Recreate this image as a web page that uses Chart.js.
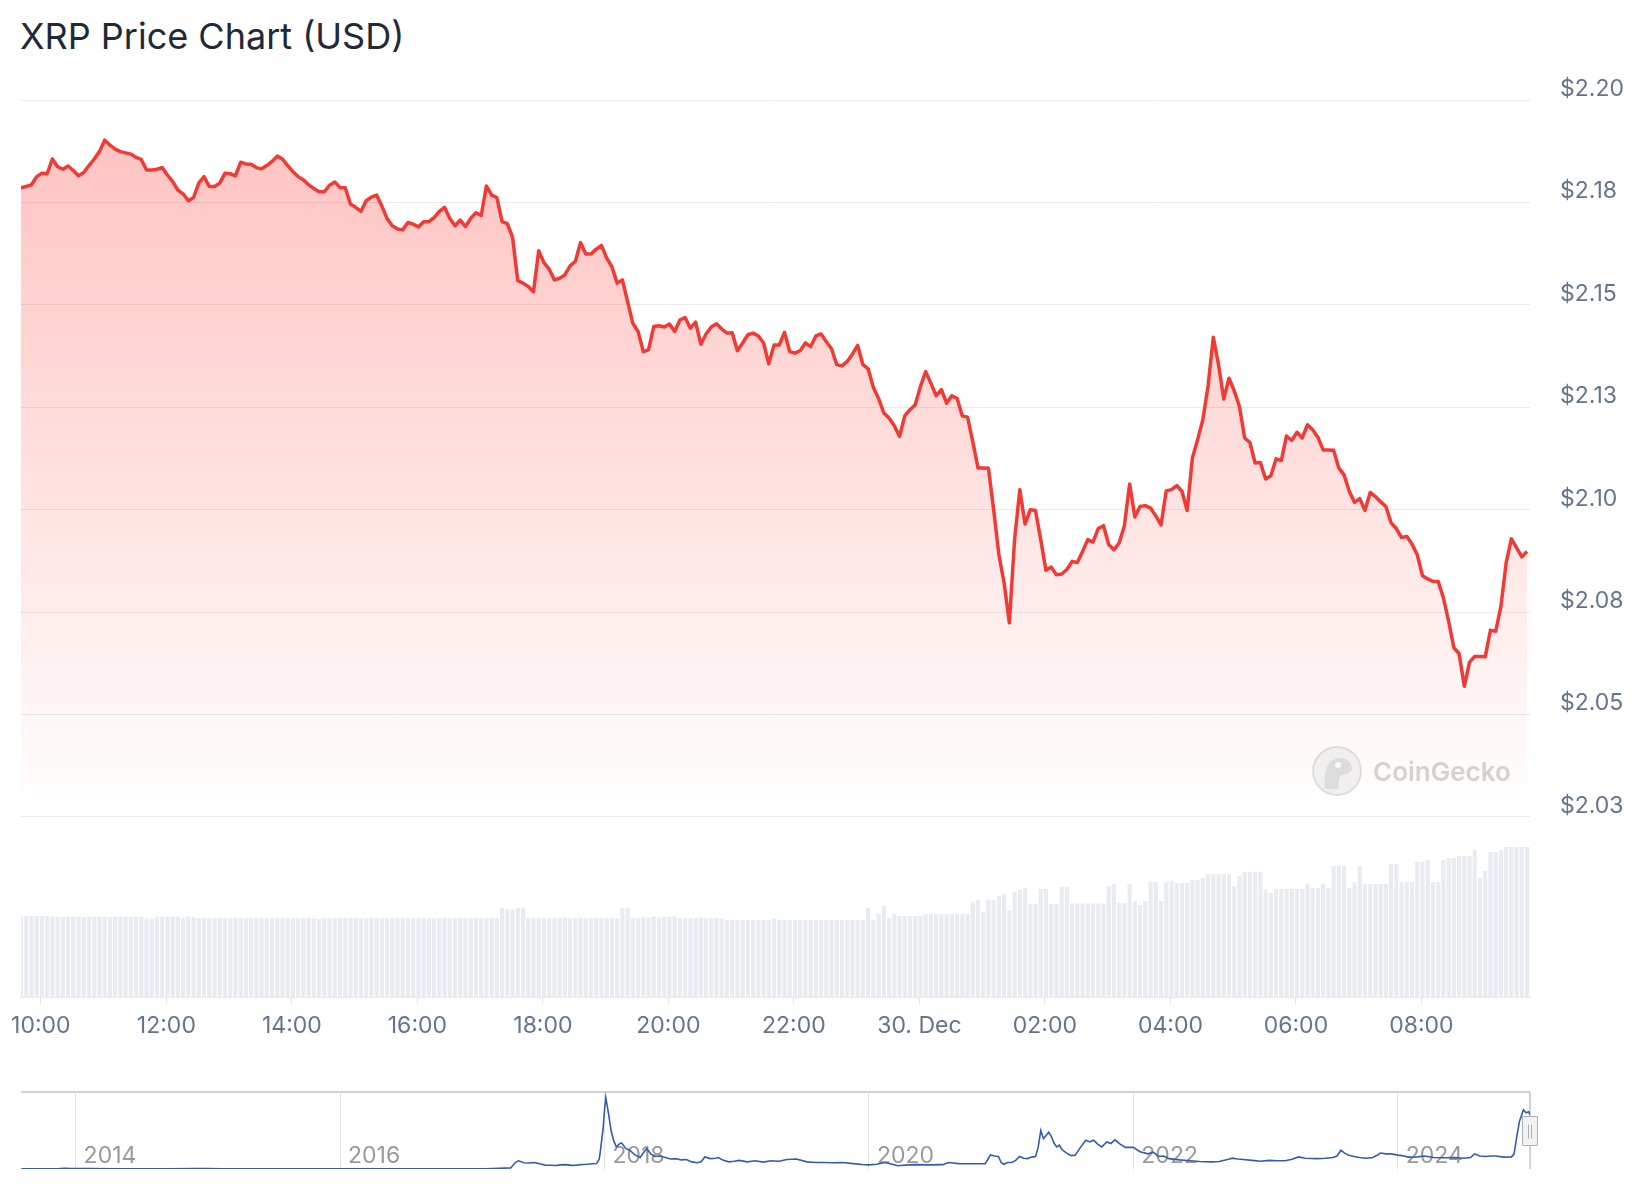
<!DOCTYPE html>
<html>
<head>
<meta charset="utf-8">
<title>XRP Price Chart (USD)</title>
<script src="https://cdn.jsdelivr.net/npm/chart.js@4.4.1/dist/chart.umd.min.js"></script>
<style>
  html, body { margin: 0; padding: 0; background: #fff; }
  body { width: 1644px; height: 1200px; position: relative; overflow: hidden; font-family: Inter, "Noto Sans", sans-serif; }
  #title { position: absolute; left: 20px; top: 14px; font-size: 36px; line-height: 44px; color: #1f2937; }
  #main { position: absolute; left: 0; top: 0; width: 1644px; height: 1060px; }
  #nav { position: absolute; left: 0; top: 1085px; width: 1644px; height: 95px; }
  #mark { position: absolute; left: 1311px; top: 745px; height: 52px; display: flex; align-items: center; gap: 10px;
          color: rgba(150, 150, 150, 0.42); font-size: 26px; font-weight: 600; z-index: 2; }
</style>
</head>
<body>
<div id="title">XRP Price Chart (USD)</div>
<div id="main"><canvas id="mainChart"></canvas></div>
<div id="nav"><canvas id="navChart"></canvas></div>
<div id="mark">
  <svg width="52" height="52" viewBox="0 0 52 52">
    <circle cx="26" cy="26" r="24" fill="rgba(225,225,225,0.45)" stroke="rgba(190,190,190,0.45)" stroke-width="2"/>
    <path d="M14 44 C13 30 14 18 24 14 C32 11 40 15 41 22 C42 27 36 29 31 30 C28 31 27 36 28 44 Z" fill="rgba(205,205,205,0.55)"/>
    <circle cx="27" cy="20" r="3" fill="rgba(255,255,255,0.8)"/>
  </svg>
  <span>CoinGecko</span>
</div>

<script>
// time axis: hours since 29 Dec 00:00, one sample every 5 minutes
const START_HOUR = 9 + 41 / 60;
const STEP_HOUR = 5 / 60;
const END_HOUR = 33.73;

// XRP price, USD
const prices = [
  2.1786, 2.1789, 2.1793, 2.1813, 2.1821, 2.1820, 2.1856, 2.1837, 2.1831, 2.1839,
  2.1828, 2.1815, 2.1823, 2.1840, 2.1856, 2.1874, 2.1902, 2.1890, 2.1880, 2.1874,
  2.1871, 2.1868, 2.1860, 2.1855, 2.1829, 2.1829, 2.1831, 2.1835, 2.1817, 2.1801,
  2.1780, 2.1771, 2.1754, 2.1762, 2.1797, 2.1813, 2.1789, 2.1789, 2.1797, 2.1821,
  2.1820, 2.1815, 2.1848, 2.1844, 2.1843, 2.1835, 2.1832, 2.1840, 2.1850, 2.1863,
  2.1856, 2.1840, 2.1825, 2.1813, 2.1805, 2.1793, 2.1784, 2.1776, 2.1776, 2.1792,
  2.1800, 2.1786, 2.1786, 2.1746, 2.1738, 2.1728, 2.1754, 2.1763, 2.1768, 2.1741,
  2.1711, 2.1693, 2.1685, 2.1683, 2.1701, 2.1697, 2.1690, 2.1703, 2.1703, 2.1713,
  2.1728, 2.1738, 2.1711, 2.1693, 2.1707, 2.1691, 2.1711, 2.1725, 2.1718, 2.1790,
  2.1768, 2.1762, 2.1703, 2.1698, 2.1665, 2.1559, 2.1553, 2.1545, 2.1532, 2.1632,
  2.1603, 2.1587, 2.1561, 2.1565, 2.1573, 2.1595, 2.1606, 2.1652, 2.1624, 2.1624,
  2.1636, 2.1645, 2.1614, 2.1593, 2.1553, 2.1561, 2.1508, 2.1455, 2.1435, 2.1386,
  2.1390, 2.1447, 2.1449, 2.1446, 2.1453, 2.1435, 2.1463, 2.1469, 2.1443, 2.1458,
  2.1404, 2.1429, 2.1446, 2.1454, 2.1441, 2.1431, 2.1432, 2.1388, 2.1407, 2.1427,
  2.1431, 2.1424, 2.1407, 2.1356, 2.1402, 2.1402, 2.1433, 2.1386, 2.1382, 2.1388,
  2.1407, 2.1398, 2.1424, 2.1429, 2.1410, 2.1393, 2.1354, 2.1351, 2.1362, 2.1380,
  2.1401, 2.1354, 2.1344, 2.1298, 2.1271, 2.1236, 2.1224, 2.1205, 2.1179, 2.1229,
  2.1244, 2.1256, 2.1301, 2.1337, 2.1309, 2.1278, 2.1293, 2.1260, 2.1278, 2.1272,
  2.1229, 2.1226, 2.1167, 2.1102, 2.1102, 2.1101, 2.1000, 2.0890, 2.0821, 2.0724,
  2.0927, 2.1049, 2.0965, 2.1000, 2.0998, 2.0927, 2.0852, 2.0860, 2.0841, 2.0843,
  2.0854, 2.0874, 2.0871, 2.0898, 2.0927, 2.0921, 2.0954, 2.0961, 2.0915, 2.0902,
  2.0919, 2.0961, 2.1063, 2.0982, 2.1008, 2.1010, 2.1004, 2.0985, 2.0963, 2.1046,
  2.1049, 2.1059, 2.1045, 2.0998, 2.1126, 2.1171, 2.1220, 2.1302, 2.1421, 2.1354,
  2.1270, 2.1321, 2.1290, 2.1252, 2.1175, 2.1164, 2.1114, 2.1115, 2.1075, 2.1083,
  2.1124, 2.1120, 2.1180, 2.1169, 2.1189, 2.1175, 2.1207, 2.1195, 2.1177, 2.1146,
  2.1146, 2.1145, 2.1102, 2.1085, 2.1045, 2.1018, 2.1027, 2.0998, 2.1042, 2.1032,
  2.1019, 2.1008, 2.0968, 2.0954, 2.0932, 2.0935, 2.0916, 2.0890, 2.0839, 2.0831,
  2.0825, 2.0825, 2.0785, 2.0728, 2.0663, 2.0649, 2.0569, 2.0628, 2.0642, 2.0642,
  2.0641, 2.0706, 2.0703, 2.0764, 2.0870, 2.0929, 2.0907, 2.0885, 2.0898
];

// 24h trading volume, billion USD
const volumes = [
  2.70, 2.70, 2.70, 2.70, 2.70, 2.70, 2.68, 2.68, 2.66, 2.68,
  2.68, 2.68, 2.66, 2.68, 2.68, 2.68, 2.68, 2.66, 2.68, 2.68,
  2.68, 2.66, 2.68, 2.68, 2.62, 2.62, 2.68, 2.68, 2.68, 2.68,
  2.68, 2.62, 2.68, 2.66, 2.63, 2.63, 2.63, 2.63, 2.63, 2.63,
  2.63, 2.63, 2.63, 2.63, 2.63, 2.63, 2.63, 2.63, 2.63, 2.63,
  2.63, 2.63, 2.63, 2.63, 2.63, 2.63, 2.63, 2.60, 2.63, 2.63,
  2.63, 2.63, 2.63, 2.63, 2.63, 2.63, 2.63, 2.63, 2.63, 2.63,
  2.63, 2.63, 2.63, 2.63, 2.63, 2.63, 2.63, 2.63, 2.63, 2.63,
  2.63, 2.63, 2.63, 2.63, 2.63, 2.63, 2.63, 2.63, 2.63, 2.63,
  2.63, 2.63, 2.97, 2.92, 2.92, 2.97, 2.97, 2.63, 2.63, 2.63,
  2.63, 2.63, 2.63, 2.63, 2.63, 2.63, 2.63, 2.63, 2.63, 2.63,
  2.63, 2.63, 2.63, 2.63, 2.63, 2.97, 2.97, 2.63, 2.63, 2.65,
  2.65, 2.68, 2.65, 2.68, 2.68, 2.68, 2.63, 2.63, 2.63, 2.63,
  2.63, 2.63, 2.63, 2.63, 2.63, 2.57, 2.57, 2.57, 2.57, 2.57,
  2.57, 2.57, 2.57, 2.57, 2.63, 2.57, 2.57, 2.57, 2.57, 2.57,
  2.57, 2.57, 2.57, 2.57, 2.57, 2.57, 2.57, 2.57, 2.57, 2.57,
  2.57, 2.57, 2.97, 2.57, 2.77, 3.04, 2.63, 2.77, 2.70, 2.70,
  2.70, 2.70, 2.70, 2.77, 2.77, 2.77, 2.77, 2.77, 2.77, 2.77,
  2.77, 2.77, 3.18, 3.23, 2.84, 3.23, 3.23, 3.36, 3.43, 2.90,
  3.50, 3.57, 3.63, 3.10, 3.10, 3.60, 3.60, 3.10, 3.10, 3.67,
  3.67, 3.12, 3.12, 3.12, 3.12, 3.12, 3.12, 3.12, 3.70, 3.77,
  3.13, 3.13, 3.77, 3.20, 3.07, 3.20, 3.83, 3.83, 3.20, 3.83,
  3.87, 3.80, 3.80, 3.80, 3.90, 3.90, 3.97, 4.10, 4.10, 4.10,
  4.10, 4.10, 3.70, 4.03, 4.17, 4.17, 4.17, 4.17, 3.57, 3.47,
  3.60, 3.60, 3.60, 3.60, 3.60, 3.60, 3.77, 3.63, 3.63, 3.77,
  3.63, 4.37, 4.37, 4.37, 3.63, 3.83, 4.37, 3.77, 3.77, 3.77,
  3.77, 3.77, 4.43, 4.43, 3.83, 3.83, 3.83, 4.50, 4.50, 4.57,
  3.83, 3.83, 4.57, 4.63, 4.63, 4.70, 4.70, 4.70, 4.90, 3.97,
  4.20, 4.83, 4.83, 4.90, 5.00, 5.00, 5.00, 5.00, 5.00
];

const timeTicks = [10, 12, 14, 16, 18, 20, 22, 24, 26, 28, 30, 32];
const timeLabels = ['10:00', '12:00', '14:00', '16:00', '18:00', '20:00', '22:00', '30. Dec', '02:00', '04:00', '06:00', '08:00'];
const priceTicks = [2.025, 2.05, 2.075, 2.1, 2.125, 2.15, 2.175, 2.2];
const priceLabels = ['$2.03', '$2.05', '$2.08', '$2.10', '$2.13', '$2.15', '$2.18', '$2.20'];

// navigator: full price history
const NAV_START = 2013.587;
const NAV_END = 2025.0;
const navYears = [
  2013.59, 2013.75, 2013.88, 2013.92, 2013.97, 2014.1, 2014.3, 2014.5, 2014.7, 2014.9,
  2015.0, 2015.1, 2015.3, 2015.5, 2015.8, 2016.0, 2016.3, 2016.6, 2016.9, 2017.1,
  2017.2, 2017.29, 2017.33, 2017.35, 2017.39, 2017.43, 2017.47, 2017.51, 2017.55, 2017.6,
  2017.63, 2017.67, 2017.71, 2017.75, 2017.79, 2017.83, 2017.87, 2017.91, 2017.94, 2017.96,
  2017.97, 2017.99, 2018.0, 2018.01, 2018.03, 2018.05, 2018.07, 2018.09, 2018.11, 2018.13,
  2018.16, 2018.19, 2018.23, 2018.27, 2018.3, 2018.32, 2018.35, 2018.38, 2018.42, 2018.46,
  2018.5, 2018.54, 2018.58, 2018.62, 2018.66, 2018.70, 2018.73, 2018.76, 2018.8, 2018.84,
  2018.86, 2018.9, 2018.94, 2018.98, 2019.02, 2019.08, 2019.14, 2019.2, 2019.26, 2019.32,
  2019.38, 2019.45, 2019.49, 2019.53, 2019.6, 2019.66, 2019.72, 2019.8, 2019.88, 2019.95,
  2020.0, 2020.06, 2020.12, 2020.16, 2020.22, 2020.3, 2020.36, 2020.45, 2020.56, 2020.6,
  2020.64, 2020.68, 2020.78, 2020.88, 2020.9, 2020.92, 2020.95, 2020.98, 2021.0, 2021.02,
  2021.05, 2021.08, 2021.11, 2021.14, 2021.17, 2021.2, 2021.23, 2021.26, 2021.28, 2021.3,
  2021.32, 2021.34, 2021.36, 2021.38, 2021.4, 2021.42, 2021.44, 2021.46, 2021.5, 2021.53,
  2021.56, 2021.6, 2021.64, 2021.67, 2021.7, 2021.73, 2021.76, 2021.8, 2021.83, 2021.86,
  2021.9, 2021.94, 2022.0, 2022.05, 2022.11, 2022.15, 2022.19, 2022.23, 2022.27, 2022.35,
  2022.43, 2022.5, 2022.59, 2022.65, 2022.72, 2022.75, 2022.79, 2022.83, 2022.9, 2022.96,
  2023.03, 2023.09, 2023.15, 2023.2, 2023.25, 2023.3, 2023.39, 2023.45, 2023.51, 2023.54,
  2023.57, 2023.6, 2023.63, 2023.67, 2023.71, 2023.76, 2023.81, 2023.84, 2023.87, 2023.91,
  2023.95, 2024.0, 2024.03, 2024.08, 2024.15, 2024.2, 2024.27, 2024.35, 2024.43, 2024.5,
  2024.55, 2024.58, 2024.62, 2024.66, 2024.7, 2024.74, 2024.8, 2024.86, 2024.88, 2024.9,
  2024.92, 2024.95, 2024.97, 2024.99, 2025.0
];
const navPrices = [
  0.006, 0.005, 0.02, 0.035, 0.025, 0.02, 0.006, 0.005, 0.005, 0.02,
  0.025, 0.015, 0.01, 0.008, 0.006, 0.006, 0.007, 0.006, 0.007, 0.006,
  0.03, 0.05, 0.32, 0.38, 0.29, 0.28, 0.30, 0.24, 0.18, 0.17,
  0.16, 0.19, 0.20, 0.17, 0.18, 0.21, 0.22, 0.24, 0.25, 0.45,
  0.87, 1.9, 2.7, 3.3, 2.6, 1.78, 1.3, 1.02, 1.15, 1.2,
  0.95, 0.87, 0.65, 0.53, 0.8, 0.94, 0.7, 0.58, 0.6, 0.53,
  0.46, 0.48, 0.42, 0.44, 0.33, 0.29, 0.33, 0.56, 0.48, 0.5,
  0.53, 0.4, 0.33, 0.36, 0.4, 0.33, 0.38, 0.32, 0.38, 0.36,
  0.44, 0.46, 0.4, 0.33, 0.3, 0.3, 0.29, 0.3, 0.25, 0.21,
  0.19, 0.22, 0.3, 0.24, 0.15, 0.19, 0.2, 0.19, 0.2, 0.3,
  0.28, 0.25, 0.24, 0.25, 0.45, 0.65, 0.6, 0.58, 0.3, 0.22,
  0.3, 0.3, 0.4, 0.58, 0.5, 0.48, 0.55, 0.58, 1.0, 1.78,
  1.4, 1.55, 1.7, 1.5, 1.2, 1.02, 1.1, 0.9, 0.71, 0.62,
  0.64, 1.0, 1.33, 1.25, 1.33, 1.15, 1.02, 1.25, 1.18, 1.35,
  1.15, 1.0, 1.0, 0.8, 0.7, 0.78, 0.58, 0.6, 0.48, 0.42,
  0.38, 0.35, 0.33, 0.35, 0.45, 0.5, 0.46, 0.44, 0.4, 0.36,
  0.4, 0.38, 0.38, 0.45, 0.56, 0.5, 0.48, 0.5, 0.53, 0.6,
  0.87, 0.72, 0.64, 0.58, 0.53, 0.5, 0.53, 0.62, 0.74, 0.7,
  0.7, 0.64, 0.62, 0.55, 0.56, 0.6, 0.53, 0.52, 0.53, 0.5,
  0.53, 0.7, 0.6, 0.58, 0.6, 0.6, 0.55, 0.56, 0.7, 1.5,
  2.2, 2.74, 2.6, 2.65, 2.5
];
const yearTicks = [2014, 2016, 2018, 2020, 2022, 2024];

Chart.defaults.font.family = 'Inter, "Noto Sans", sans-serif';

const RED = '#f03a33';

// price area fades from light red to white towards the bottom of the price pane
function priceFill(context) {
    const chart = context.chart;
    const s = chart.scales.y;
    if (!chart.chartArea || !s) return 'rgba(255, 58, 51, 0.15)';
    const g = chart.ctx.createLinearGradient(0, s.top, 0, s.bottom);
    g.addColorStop(0, 'rgba(255, 58, 51, 0.32)');
    g.addColorStop(1, 'rgba(255, 58, 51, 0)');
    return g;
}

new Chart(document.getElementById('mainChart'), {
    type: 'line',
    data: {
        datasets: [
            {
                type: 'line',
                label: 'Price',
                data: prices.map((p, i) => ({ x: START_HOUR + i * STEP_HOUR, y: p })),
                yAxisID: 'y',
                borderColor: RED,
                borderWidth: 3.5,
                borderJoinStyle: 'round',
                pointRadius: 0,
                tension: 0,
                fill: 'start',
                backgroundColor: priceFill,
                order: 1
            },
            {
                type: 'bar',
                label: 'Volume',
                data: volumes.map((v, i) => ({ x: START_HOUR + i * STEP_HOUR, y: v })),
                yAxisID: 'yv',
                backgroundColor: '#e8ecf1',
                barPercentage: 0.8,
                categoryPercentage: 1,
                order: 2
            }
        ]
    },
    options: {
        responsive: true,
        maintainAspectRatio: false,
        animation: false,
        layout: { padding: { top: 100, left: 21, right: 0, bottom: 0 } },
        plugins: {
            legend: { display: false },
            tooltip: { enabled: false }
        },
        scales: {
            x: {
                type: 'linear',
                min: START_HOUR,
                max: END_HOUR,
                offset: false,
                afterBuildTicks: axis => { axis.ticks = timeTicks.map(v => ({ value: v })); },
                afterFit: axis => { axis.height = 63; },
                grid: { offset: false, drawOnChartArea: false, drawTicks: true, tickLength: 7, color: '#e3e7ec' },
                border: { display: true, color: '#e6eaef' },
                ticks: {
                    autoSkip: false,
                    maxRotation: 0,
                    padding: 8,
                    color: '#64748b',
                    font: { size: 23 },
                    callback: v => timeLabels[timeTicks.indexOf(v)]
                }
            },
            y: {
                position: 'right',
                stack: 'main',
                stackWeight: 3.983,
                min: 2.025,
                max: 2.2,
                afterBuildTicks: axis => { axis.ticks = priceTicks.map(v => ({ value: v })); },
                afterFit: axis => { axis.width = 114; },
                grid: { color: '#e9e9ec', drawTicks: false },
                border: { display: false },
                ticks: {
                    padding: 30,
                    labelOffset: -11,
                    color: '#64748b',
                    font: { size: 23 },
                    callback: v => priceLabels[priceTicks.indexOf(v)]
                }
            },
            yv: {
                position: 'right',
                stack: 'main',
                stackWeight: 1,
                min: 0,
                max: 6,
                afterFit: axis => { axis.width = 114; },
                grid: { display: false },
                border: { display: false },
                ticks: { display: false }
            }
        }
    }
});

// small grip drawn on the right end of the navigator
const navHandle = {
    id: 'navHandle',
    afterDraw(chart) {
        const { ctx, chartArea: a } = chart;
        const x = Math.round(a.right) + 0.5;
        const y = Math.round((a.top + a.bottom) / 2) + 0.5;
        ctx.save();
        ctx.fillStyle = '#f2f2f2';
        ctx.strokeStyle = '#a8b0bb';
        ctx.lineWidth = 1;
        ctx.beginPath();
        ctx.rect(x - 8, y - 15, 15, 29);
        ctx.fill();
        ctx.stroke();
        ctx.beginPath();
        ctx.moveTo(x - 2, y - 7); ctx.lineTo(x - 2, y + 7);
        ctx.moveTo(x + 1, y - 7); ctx.lineTo(x + 1, y + 7);
        ctx.stroke();
        ctx.restore();
    }
};

new Chart(document.getElementById('navChart'), {
    type: 'line',
    data: {
        datasets: [{
            label: 'History',
            data: navYears.map((t, i) => ({ x: t, y: navPrices[i] })),
            borderColor: '#335cad',
            borderWidth: 1.6,
            pointRadius: 0,
            tension: 0,
            fill: false
        }]
    },
    options: {
        responsive: true,
        maintainAspectRatio: false,
        animation: false,
        layout: { padding: { top: 7, left: 21, right: 114, bottom: 11 } },
        plugins: {
            legend: { display: false },
            tooltip: { enabled: false }
        },
        scales: {
            x: {
                type: 'linear',
                min: NAV_START,
                max: NAV_END,
                afterBuildTicks: axis => { axis.ticks = yearTicks.concat([NAV_END]).map(v => ({ value: v })); },
                afterFit: axis => { axis.height = 0; },
                grid: {
                    drawTicks: false,
                    color: c => (c.tick && c.tick.value === NAV_END) ? '#ccd3dd' : '#e3e3e3',
                    lineWidth: c => (c.tick && c.tick.value === NAV_END) ? 2 : 1
                },
                border: { display: false },
                ticks: {
                    autoSkip: false,
                    maxRotation: 0,
                    mirror: true,
                    align: 'start',
                    labelOffset: 8,
                    padding: -1,
                    color: '#999999',
                    font: { size: 23 },
                    callback: v => yearTicks.includes(v) ? String(v) : ''
                }
            },
            y: {
                position: 'left',
                min: 0,
                max: 3.56,
                afterBuildTicks: axis => { axis.ticks = [{ value: 3.56 }]; },
                afterFit: axis => { axis.width = 0; },
                grid: { drawTicks: false, color: '#ccd3dd', lineWidth: 2 },
                border: { display: false },
                ticks: { display: false }
            }
        }
    },
    plugins: [navHandle]
});
</script>
</body>
</html>
